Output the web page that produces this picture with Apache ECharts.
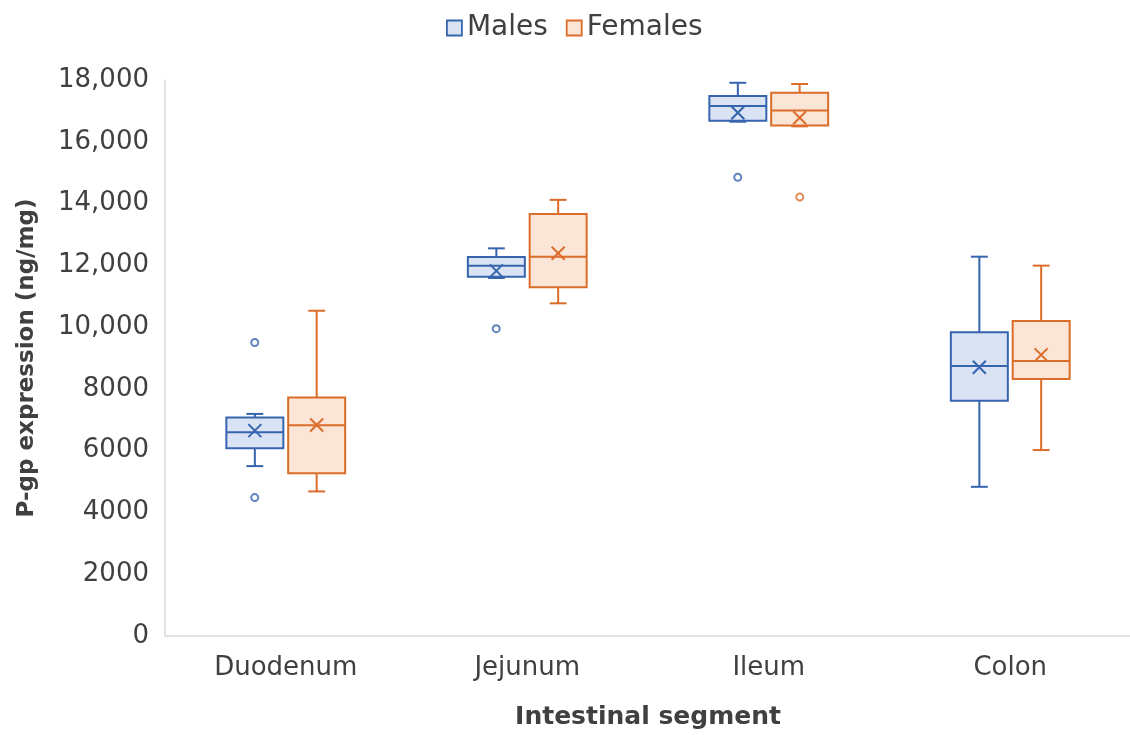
<!DOCTYPE html>
<html>
<head>
<meta charset="utf-8">
<script src="https://cdn.jsdelivr.net/npm/echarts@6/dist/echarts.min.js"></script>
<style>
  html, body { margin: 0; padding: 0; background: #fff; }
  #chart { width: 1130px; height: 735px; }
</style>
</head>
<body>
<div id="chart"></div>
<script>
// ---- Data ----
const categories = ['Duodenum', 'Jejunum', 'Ileum', 'Colon'];
const yTicks = [0, 2000, 4000, 6000, 8000, 10000, 12000, 14000, 16000, 18000];

// each row: [min, Q1, median, Q3, max, mean]
const malesStats = [
  [5500, 6080, 6600, 7070, 7190, 6650],
  [11590, 11630, 11990, 12270, 12550, 11820],
  [16650, 16680, 17160, 17480, 17910, 16940],
  [4830, 7620, 8740, 9830, 12280, 8700]
];
const femalesStats = [
  [4680, 5270, 6820, 7720, 10530, 6830],
  [10770, 11290, 12280, 13660, 14120, 12390],
  [16500, 16530, 17010, 17590, 17870, 16780],
  [6020, 8320, 8900, 10200, 11990, 9100]
];
// outliers: [categoryIndex, value]
const malesOutliers = [[0, 9500], [0, 4480], [1, 9950], [2, 14850]];
const femalesOutliers = [[2, 14210]];

// ---- Styling ----
const MALE_STROKE = '#3764ae';
const MALE_FILL = '#dae3f3';
const FEMALE_STROKE = '#db6d2b';
const FEMALE_FILL = '#fbe5d6';
const TEXT = '#404040';
const FONT = 'DejaVu Sans';

const BOX_OFFSET = 0.128;  // fraction of band width
const BOX_WIDTH = 0.236;
const CAP_WIDTH = 0.07;

function makeRender(offsetSign, stroke, fill) {
  return function (params, api) {
    const ci = api.value(0);
    const band = api.size([1, 0])[0];
    const cx = api.coord([ci, 0])[0] + offsetSign * BOX_OFFSET * band;
    const y = v => api.coord([ci, v])[1];
    const w = BOX_WIDTH * band;
    const cap = CAP_WIDTH * band;
    const mn = y(api.value(1)), q1 = y(api.value(2)), md = y(api.value(3)),
          q3 = y(api.value(4)), mx = y(api.value(5)), mean = y(api.value(6));
    const ls = { stroke: stroke, lineWidth: 2, fill: null };
    const m = 6.5;
    return {
      type: 'group',
      children: [
        { type: 'line', shape: { x1: cx, y1: mx, x2: cx, y2: q3 }, style: ls },
        { type: 'line', shape: { x1: cx, y1: q1, x2: cx, y2: mn }, style: ls },
        { type: 'line', shape: { x1: cx - cap / 2, y1: mx, x2: cx + cap / 2, y2: mx }, style: ls },
        { type: 'line', shape: { x1: cx - cap / 2, y1: mn, x2: cx + cap / 2, y2: mn }, style: ls },
        { type: 'rect', shape: { x: cx - w / 2, y: q3, width: w, height: q1 - q3 },
          style: { fill: fill, stroke: stroke, lineWidth: 2 } },
        { type: 'line', shape: { x1: cx - w / 2, y1: md, x2: cx + w / 2, y2: md }, style: ls },
        { type: 'line', shape: { x1: cx - m, y1: mean - m, x2: cx + m, y2: mean + m }, style: ls },
        { type: 'line', shape: { x1: cx - m, y1: mean + m, x2: cx + m, y2: mean - m }, style: ls }
      ]
    };
  };
}

function toRows(stats) {
  return stats.map((s, i) => [i].concat(s));
}

const chart = echarts.init(document.getElementById('chart'), null, { renderer: 'canvas' });

const option = {
  backgroundColor: '#ffffff',
  animation: false,
  legend: {
    top: 9,
    left: 441,
    itemWidth: 15,
    itemHeight: 15,
    itemGap: 18,
    textStyle: { fontFamily: FONT, fontSize: 28, color: TEXT },
    data: [
      { name: 'Males', icon: 'rect', itemStyle: { color: MALE_FILL, borderColor: MALE_STROKE, borderWidth: 1.8 } },
      { name: 'Females', icon: 'rect', itemStyle: { color: FEMALE_FILL, borderColor: FEMALE_STROKE, borderWidth: 1.8 } }
    ]
  },
  grid: {
    left: 165,
    top: 80,
    width: 966,
    height: 556,
    outerBoundsMode: 'none',
    containLabel: false
  },
  xAxis: {
    type: 'category',
    data: categories,
    boundaryGap: true,
    name: 'Intestinal segment',
    nameLocation: 'middle',
    nameGap: 69,
    nameTextStyle: { fontFamily: FONT, fontSize: 25, fontWeight: 'bold', color: TEXT },
    axisLine: { lineStyle: { color: '#d9d9d9', width: 1.5 } },
    axisTick: { show: false },
    axisLabel: { fontFamily: FONT, fontSize: 26, color: TEXT, margin: 19 },
    splitLine: { show: false }
  },
  yAxis: {
    type: 'value',
    min: yTicks[0],
    max: yTicks[yTicks.length - 1],
    interval: yTicks[1] - yTicks[0],
    name: 'P-gp expression (ng/mg)',
    nameLocation: 'middle',
    nameGap: 126,
    nameRotate: 90,
    nameTextStyle: { fontFamily: FONT, fontSize: 23, fontWeight: 'bold', color: TEXT },
    axisLine: { show: true, lineStyle: { color: '#d9d9d9', width: 1.5 } },
    axisTick: { show: false },
    splitLine: { show: false },
    axisLabel: {
      fontFamily: FONT, fontSize: 26, color: TEXT, margin: 16,
      formatter: v => (v >= 10000 ? v.toLocaleString('en-US') : String(v))
    }
  },
  series: [
    {
      name: 'Males',
      type: 'custom',
      renderItem: makeRender(-1, MALE_STROKE, MALE_FILL),
      itemStyle: { color: MALE_FILL, borderColor: MALE_STROKE },
      encode: { x: 0, y: [1, 2, 3, 4, 5, 6] },
      data: toRows(malesStats),
      z: 2
    },
    {
      name: 'Females',
      type: 'custom',
      renderItem: makeRender(1, FEMALE_STROKE, FEMALE_FILL),
      itemStyle: { color: FEMALE_FILL, borderColor: FEMALE_STROKE },
      encode: { x: 0, y: [1, 2, 3, 4, 5, 6] },
      data: toRows(femalesStats),
      z: 2
    },
    {
      name: 'Males',
      type: 'scatter',
      symbol: 'emptyCircle',
      symbolSize: 7,
      symbolOffset: [-31, 0],
      itemStyle: { color: MALE_STROKE, borderColor: MALE_STROKE, borderWidth: 1.8 },
      data: malesOutliers,
      z: 3
    },
    {
      name: 'Females',
      type: 'scatter',
      symbol: 'emptyCircle',
      symbolSize: 7,
      symbolOffset: [31, 0],
      itemStyle: { color: FEMALE_STROKE, borderColor: FEMALE_STROKE, borderWidth: 1.8 },
      data: femalesOutliers,
      z: 3
    }
  ]
};

chart.setOption(option);
</script>
</body>
</html>
